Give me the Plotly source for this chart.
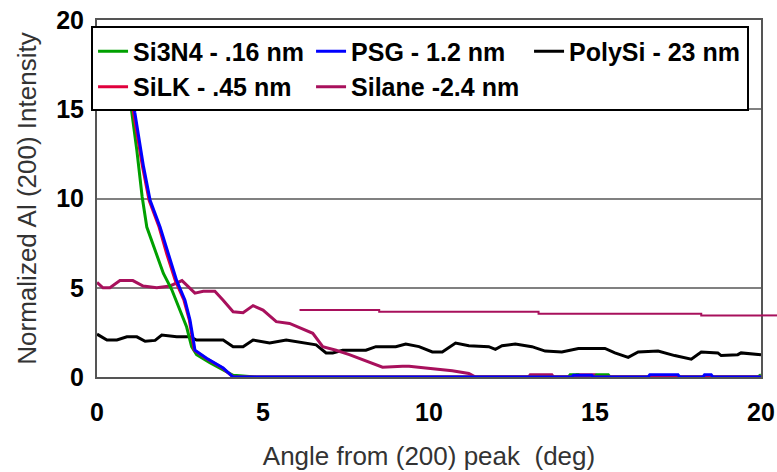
import plotly.graph_objects as go

# ---- data ----
si3n4_x = [0.95, 1.05, 1.2, 1.36, 1.5, 1.75, 2.0, 2.25, 2.5, 2.7, 2.85, 3.0, 3.4, 3.8, 4.1, 4.8, 14.2, 14.25, 14.5, 14.55, 15.0, 15.05, 15.4, 15.45, 19.9, 20.0]
si3n4_y = [16.2, 14.8, 12.7, 10.1, 8.4, 7.1, 5.8, 4.9, 3.75, 2.8, 1.7, 1.25, 0.8, 0.4, 0.1, 0.0, 0.0, 0.12, 0.12, 0.0, 0.0, 0.12, 0.12, 0.0, 0.0, 0.12]

psg_x = [1.04, 1.14, 1.4, 1.6, 1.9, 2.14, 2.4, 2.65, 2.8, 2.9, 2.95, 3.3, 3.8, 4.1, 14.3, 14.35, 14.9, 14.95, 16.6, 16.65, 17.5, 17.55, 18.25, 18.3, 18.5, 18.55, 20.0]
psg_y = [16.2, 14.8, 11.8, 9.9, 8.4, 6.9, 5.4, 4.3, 3.2, 2.1, 1.5, 1.05, 0.5, 0.0, 0.0, 0.1, 0.1, 0.0, 0.0, 0.12, 0.12, 0.0, 0.0, 0.12, 0.12, 0.0, 0.0]

silk_x = [1.0, 1.1, 1.37, 1.57, 1.87, 2.1, 2.36, 2.62, 2.78, 2.88, 2.93, 3.28, 3.78, 4.1, 20.0]
silk_y = [16.2, 14.8, 11.8, 9.9, 8.4, 6.9, 5.4, 4.3, 3.2, 2.1, 1.5, 1.05, 0.5, 0.0, 0.0]

polysi_x = [0.0, 0.3, 0.6, 0.9, 1.2, 1.45, 1.75, 1.95, 2.4, 2.8, 3.0, 3.8, 4.1, 4.4, 4.7, 5.2, 5.7, 6.2, 6.6, 6.9, 7.1, 7.4, 8.1, 8.4, 9.0, 9.3, 9.7, 10.1, 10.4, 10.8, 11.2, 11.8, 12.0, 12.2, 12.6, 13.1, 13.5, 14.0, 14.5, 15.3, 15.6, 16.0, 16.3, 16.9, 17.4, 17.9, 18.2, 18.7, 18.8, 19.3, 19.4, 20.0]
polysi_y = [2.4, 2.07, 2.07, 2.25, 2.25, 2.0, 2.05, 2.35, 2.25, 2.25, 2.07, 2.07, 1.7, 1.7, 2.07, 1.9, 2.07, 1.9, 1.8, 1.35, 1.35, 1.5, 1.5, 1.7, 1.7, 1.85, 1.7, 1.4, 1.4, 1.9, 1.75, 1.7, 1.55, 1.75, 1.85, 1.7, 1.45, 1.4, 1.6, 1.6, 1.35, 1.1, 1.4, 1.45, 1.2, 1.0, 1.4, 1.35, 1.2, 1.25, 1.35, 1.25]

silane_x = [0.0, 0.18, 0.39, 0.69, 1.08, 1.39, 1.8, 2.2, 2.56, 2.8, 2.95, 3.2, 3.55, 3.8, 4.1, 4.4, 4.7, 5.0, 5.4, 5.8, 6.2, 6.5, 6.8, 7.2, 7.6, 8.1, 8.6, 9.2, 9.4, 9.9, 10.7, 11.2, 11.4, 13.0, 13.05, 13.7, 13.75, 14.4, 14.45, 15.0, 15.05, 20.0]
silane_y = [5.3, 5.0, 5.0, 5.4, 5.4, 5.1, 5.0, 5.1, 5.4, 5.0, 4.7, 4.8, 4.8, 4.3, 3.65, 3.6, 4.0, 3.75, 3.1, 3.0, 2.7, 2.45, 1.7, 1.5, 1.25, 0.9, 0.55, 0.6, 0.6, 0.5, 0.35, 0.2, 0.0, 0.0, 0.12, 0.12, 0.0, 0.0, 0.12, 0.12, 0.0, 0.0]

# stray Silane segment (continues past the right edge of the plot)
stray_x = [6.1, 8.5, 8.5, 13.3, 13.3, 18.2, 18.2, 20.0, 20.6]
stray_y = [3.75, 3.75, 3.65, 3.65, 3.55, 3.55, 3.45, 3.45, 3.45]

x_ticks = [0, 5, 10, 15, 20]
y_ticks = [0, 5, 10, 15, 20]
x_range = [0, 20]
y_range = [0, 20]

GREEN = "#00a000"
BLUE = "#0000ff"
RED = "#e0003c"
MAROON = "#a8105c"
BLACK = "#000000"

fig = go.Figure()

fig.add_trace(go.Scatter(x=stray_x, y=stray_y, mode="lines", line=dict(color=MAROON, width=2),
                         showlegend=False, hoverinfo="skip"))
fig.add_trace(go.Scatter(x=polysi_x, y=polysi_y, mode="lines", name="PolySi - 23 nm",
                         line=dict(color=BLACK, width=3), legendrank=3))
fig.add_trace(go.Scatter(x=silane_x, y=silane_y, mode="lines", name="Silane -2.4 nm",
                         line=dict(color=MAROON, width=3), legendrank=5))
fig.add_trace(go.Scatter(x=si3n4_x, y=si3n4_y, mode="lines", name="Si3N4 - .16 nm",
                         line=dict(color=GREEN, width=3), legendrank=1))
fig.add_trace(go.Scatter(x=silk_x, y=silk_y, mode="lines", name="SiLK - .45 nm",
                         line=dict(color=RED, width=3), legendrank=4))
fig.add_trace(go.Scatter(x=psg_x, y=psg_y, mode="lines", name="PSG - 1.2 nm",
                         line=dict(color=BLUE, width=3), legendrank=2))

# part of the stray line drawn outside the plot area (paper coords derived from data)
def to_paper(v, rng):
    return (v - rng[0]) / (rng[1] - rng[0])

fig.add_shape(type="line", xref="paper", yref="paper",
              x0=to_paper(stray_x[-2], x_range), y0=to_paper(stray_y[-2], y_range),
              x1=to_paper(stray_x[-1], x_range), y1=to_paper(stray_y[-1], y_range),
              line=dict(color=MAROON, width=2))

tickfont = dict(family="Liberation Sans, Arial, sans-serif", size=25, color="black", weight="bold")
titlefont = dict(family="Liberation Sans, Arial, sans-serif", size=26, color="#333333")

fig.update_layout(
    width=777, height=472,
    margin=dict(l=97, r=16, t=20, b=95),
    paper_bgcolor="white", plot_bgcolor="white",
    showlegend=True,
    legend=dict(
        orientation="h",
        x=0.982, y=0.982, xanchor="right", yanchor="top",
        bgcolor="white", bordercolor="black", borderwidth=2,
        entrywidth=173, entrywidthmode="pixels",
        font=dict(family="Liberation Sans, Arial, sans-serif", size=25, color="black", weight="bold"),
        itemwidth=30,
        traceorder="normal",
    ),
    xaxis=dict(
        range=x_range, tickvals=x_ticks, ticktext=[str(v) for v in x_ticks],
        showgrid=False, zeroline=False, automargin=False,
        showline=True, linecolor="#555555", linewidth=2, mirror=True,
        ticks="", tickfont=tickfont, ticklabelstandoff=12,
        title=dict(text="Angle from (200) peak &nbsp;(deg)", font=titlefont, standoff=22),
    ),
    yaxis=dict(
        range=y_range, tickvals=y_ticks, ticktext=[str(v) for v in y_ticks],
        showgrid=True, gridcolor="#808080", gridwidth=2, zeroline=False, automargin=False,
        showline=True, linecolor="#555555", linewidth=2, mirror=True,
        ticks="", tickfont=tickfont, ticklabelstandoff=6,
        title=dict(text="Normalized Al (200) Intensity", font=titlefont, standoff=12),
    ),
)

fig.write_html("out.html")
